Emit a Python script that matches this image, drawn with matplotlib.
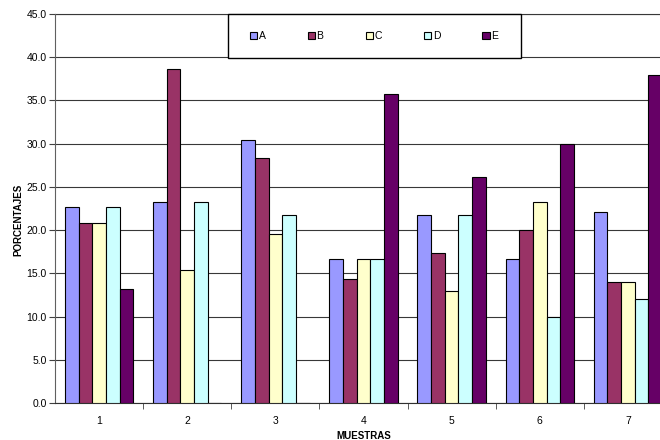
import numpy as np
import matplotlib
matplotlib.use('Agg')
import matplotlib.pyplot as plt
from matplotlib.patches import Rectangle

plt.rcParams['font.family'] = ['Liberation Sans', 'DejaVu Sans']

# datos
muestras = ['1', '2', '3', '4', '5', '6', '7']
series = ['A', 'B', 'C', 'D', 'E']
A = [22.7, 23.2, 30.4, 16.7, 21.8, 16.7, 22.1]
B = [20.8, 38.6, 28.3, 14.3, 17.3, 20.0, 14.0]
C = [20.8, 15.4, 19.6, 16.7, 13.0, 23.3, 14.0]
D = [22.7, 23.2, 21.8, 16.7, 21.8, 10.0, 12.0]
E = [13.2, 0.0, 0.0, 35.8, 26.1, 30.0, 38.0]
valores = [A, B, C, D, E]
colores = ['#9999FF', '#993366', '#FFFFCC', '#CCFFFF', '#660066']

fig = plt.figure(figsize=(6.6, 4.4), dpi=100)
ax = fig.add_axes([55/660, 37/440, 617/660, 389/440])

x = np.arange(1, len(muestras) + 1)
ancho = 0.155
for i, (serie, vals, col) in enumerate(zip(series, valores, colores)):
    ax.bar(x + (i - 2) * ancho, vals, ancho, color=col, edgecolor='black',
           linewidth=0.8, label=serie, zorder=3)

ax.set_xlim(0.5, 7.5)
ax.set_ylim(0, 45)
ax.set_yticks(np.arange(0, 46, 5))
ax.set_yticklabels(['%.1f' % v for v in np.arange(0, 46, 5)], fontsize=7.5)
ax.set_xticks(x)
ax.set_xticklabels(muestras, fontsize=7.5)
ax.set_xticks(np.arange(1.5, 7.5, 1), minor=True)
ax.tick_params(axis='x', which='major', length=0, pad=9)
ax.tick_params(axis='x', which='minor', length=4, direction='out', color='#404040')
ax.tick_params(axis='y', length=4, direction='out', color='#404040', pad=2)

ax.yaxis.grid(True, color='#383838', linewidth=0.8, zorder=0)
ax.set_axisbelow(True)
for lado in ['top', 'right']:
    ax.spines[lado].set_visible(False)
ax.spines['left'].set_color('#606060')
ax.spines['bottom'].set_color('#303030')
ax.axhline(45, color='#383838', linewidth=0.8, clip_on=False, zorder=0)

ax.set_xlabel('MUESTRAS', fontsize=7, fontweight='bold', labelpad=4)
fig.text(18/660, 0.5, 'PORCENTAJES', rotation=90, fontsize=7, fontweight='bold',
         ha='center', va='center')

# marco de la leyenda
marco = Rectangle((228/660, 382/440), 293/660, 44/440, transform=fig.transFigure,
                  facecolor='white', edgecolor='black', linewidth=1.0, zorder=4,
                  clip_on=False)
ax.add_patch(marco)
leg = ax.legend(loc='center', bbox_to_anchor=(250/660, 382/440, 248/660, 44/440),
                bbox_transform=fig.transFigure, mode='expand', ncol=5, fontsize=7.5,
                frameon=False, handlelength=0.7, handleheight=0.7,
                handletextpad=0.15, borderaxespad=0, borderpad=0)
leg.set_zorder(5)

plt.savefig('out.png', dpi=100)
